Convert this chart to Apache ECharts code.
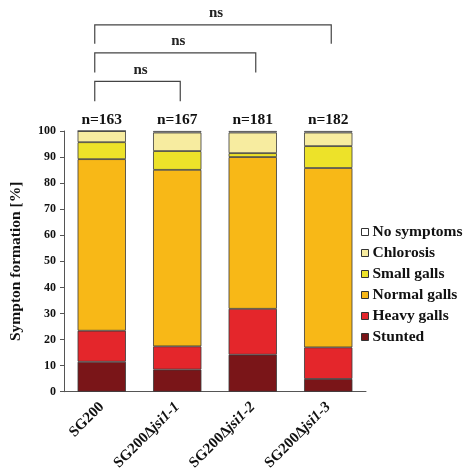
<!DOCTYPE html>
<html><head><meta charset="utf-8">
<script src="https://cdn.jsdelivr.net/npm/echarts@6/dist/echarts.min.js"></script>
<style>html,body{margin:0;padding:0;background:#fff}#c{width:473px;height:473px}</style>
</head><body><div id="c"></div>
<script>
var categories = ['SG200', 'SG200Δjsi1-1', 'SG200Δjsi1-2', 'SG200Δjsi1-3'];
var stunted    = [11.5, 8.5, 14.2, 4.9];
var heavyGalls = [11.9, 8.9, 17.6, 12.1];
var normalGalls= [65.8, 67.7, 58.2, 68.8];
var smallGalls = [6.5, 7.2, 1.5, 8.4];
var chlorosis  = [4.3, 7.1, 7.9, 5.2];
var noSymptoms = [0.0, 0.6, 0.6, 0.6];
var nLabels = ['n=163', 'n=167', 'n=181', 'n=182'];
var yTicks = [0, 10, 20, 30, 40, 50, 60, 70, 80, 90, 100];
var bracketFrom = [0, 0, 0];
var bracketTo = [1, 2, 3];
var bracketLegBottom = [111.4, 122.4, 133.5];
var bracketTop = [119.0, 130.0, 140.7];
var bracketLabels = ['ns', 'ns', 'ns'];

var FONT = '"Liberation Serif", "Times New Roman", serif';
var chart = echarts.init(document.getElementById('c'));

var seriesDefs = [
  {name: 'Stunted', data: stunted, color: '#7a1518'},
  {name: 'Heavy galls', data: heavyGalls, color: '#e4262b'},
  {name: 'Normal galls', data: normalGalls, color: '#f8b817'},
  {name: 'Small galls', data: smallGalls, color: '#ede229'},
  {name: 'Chlorosis', data: chlorosis, color: '#f7eca0'},
  {name: 'No symptoms', data: noSymptoms, color: '#ffffff'}
];

var series = seriesDefs.map(function (s) {
  return {
    name: s.name, type: 'bar', stack: 'all', data: s.data, barWidth: '64%',
    itemStyle: {color: s.color, borderColor: '#3a3a3a', borderWidth: 0.8},
    emphasis: {disabled: true}
  };
});

var bracketData = bracketFrom.map(function (f, i) {
  return [f, bracketTo[i], bracketLegBottom[i], bracketTop[i], bracketLabels[i]];
});
series.push({
  type: 'custom', name: 'brackets', clip: false, silent: true,
  data: bracketData,
  encode: {x: 0, y: 3},
  renderItem: function (params, api) {
    var a = api.coord([api.value(0), api.value(2)]);
    var b = api.coord([api.value(1), api.value(3)]);
    var x1 = a[0] - 7, x2 = b[0] + 3, yb = a[1], yt = b[1];
    return {
      type: 'group',
      children: [
        {type: 'polyline', shape: {points: [[x1, yb], [x1, yt], [x2, yt], [x2, yb]]},
         style: {stroke: '#444', lineWidth: 1.2, fill: null}},
        {type: 'text', style: {text: bracketLabels[params.dataIndex], x: (x1 + x2) / 2 + 3, y: yt - 4,
          textAlign: 'center', textVerticalAlign: 'bottom', fill: '#222',
          font: 'bold 15px ' + FONT}}
      ]
    };
  }
});

series.push({
  type: 'custom', name: 'nlabels', clip: false, silent: true,
  data: nLabels.map(function (t, i) { return [i, 101]; }),
  encode: {x: 0, y: 1},
  renderItem: function (params, api) {
    var p = api.coord([api.value(0), api.value(1)]);
    return {type: 'text', style: {text: nLabels[params.dataIndex], x: p[0], y: p[1],
      textAlign: 'center', textVerticalAlign: 'bottom', fill: '#111',
      font: 'bold 15.5px ' + FONT}};
  }
});

chart.setOption({
  animation: false,
  grid: {left: 62, right: 107, top: 131, bottom: 79},
  legend: {
    orient: 'vertical', left: 356, top: 219,
    data: ['No symptoms', 'Chlorosis', 'Small galls', 'Normal galls', 'Heavy galls', 'Stunted'],
    icon: 'rect', itemWidth: 7, itemHeight: 7, itemGap: 5,
    itemStyle: {borderColor: '#333', borderWidth: 1},
    textStyle: {fontFamily: FONT, fontWeight: 'bold', fontSize: 15.5, color: '#111', padding: [0, 0, 0, -1]},
    selectedMode: false
  },
  xAxis: {
    type: 'category', data: categories,
    axisLine: {lineStyle: {color: '#555', width: 1}},
    axisTick: {show: false},
    axisLabel: {
      rotate: 45, margin: 13, interval: 0,
      formatter: function (v) {
        var k = v.indexOf('Δ');
        if (k < 0) return '{b|' + v + '}';
        return '{b|' + v.slice(0, k + 1) + '}{i|' + v.slice(k + 1) + '}';
      },
      rich: {
        b: {fontFamily: FONT, fontWeight: 'bold', fontSize: 15, color: '#111'},
        i: {fontFamily: FONT, fontWeight: 'bold', fontStyle: 'italic', fontSize: 15, color: '#111'}
      }
    }
  },
  yAxis: {
    type: 'value', min: 0, max: 100, interval: 10,
    name: 'Sympton formation [%]', nameLocation: 'middle', nameGap: 40,
    nameTextStyle: {fontFamily: FONT, fontWeight: 'bold', fontSize: 15.5, color: '#111'},
    axisLine: {show: true, lineStyle: {color: '#555', width: 1}},
    axisTick: {show: true, length: 4, lineStyle: {color: '#555'}},
    splitLine: {show: false},
    axisLabel: {fontFamily: FONT, fontWeight: 'bold', fontSize: 12, color: '#111', margin: 8,
      formatter: function (v) { return yTicks.indexOf(v) >= 0 ? String(v) : ''; }}
  },
  series: series
});
</script></body></html>
